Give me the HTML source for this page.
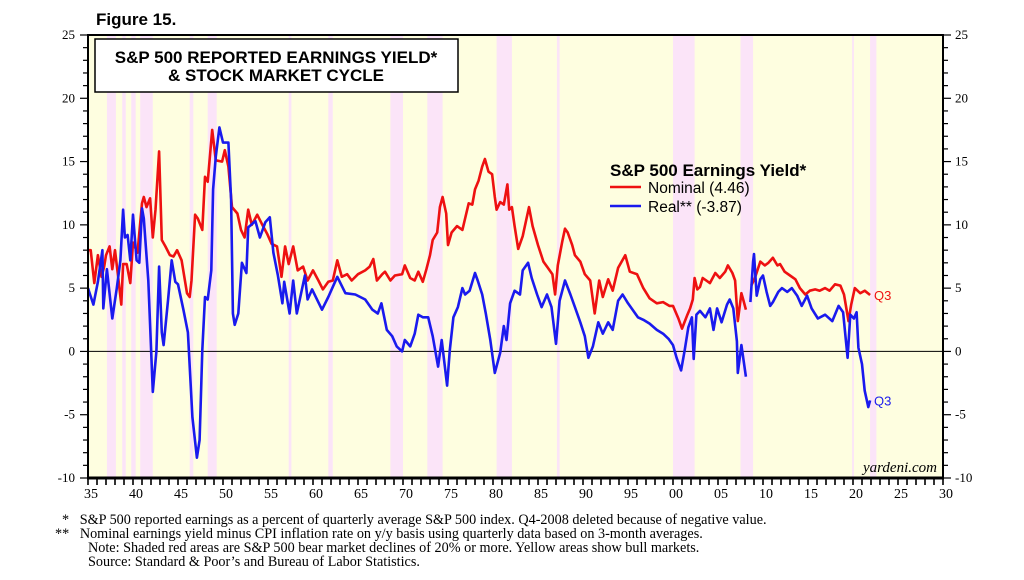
<!DOCTYPE html>
<html><head><meta charset="utf-8">
<style>
html,body{margin:0;padding:0;background:#fff;}
body{width:1024px;height:580px;position:relative;overflow:hidden;font-family:"Liberation Serif",serif;}
svg{position:absolute;left:0;top:0;}
.fn{position:absolute;font-family:"Liberation Serif",serif;font-size:14.2px;color:#000;white-space:nowrap;line-height:14px;}
</style></head>
<body>
<svg id="chart" width="1024" height="580" viewBox="0 0 1024 580"></svg>
<div class="fn" style="left:62px;top:513px;">*&nbsp;&nbsp;&nbsp;S&amp;P 500 reported earnings as a percent of quarterly average S&amp;P 500 index. Q4-2008 deleted because of negative value.</div>
<div class="fn" style="left:55px;top:527px;">**&nbsp;&nbsp;&nbsp;Nominal earnings yield minus CPI inflation rate on y/y basis using quarterly data based on 3-month averages.</div>
<div class="fn" style="left:88px;top:541px;">Note: Shaded red areas are S&amp;P 500 bear market declines of 20% or more. Yellow areas show bull markets.</div>
<div class="fn" style="left:88px;top:555px;">Source: Standard &amp; Poor’s and Bureau of Labor Statistics.</div>
<script>
const bearStart=[1937.1,1938.8,1939.8,1940.8,1946.3,1948.3,1957.3,1961.7,1968.6,1972.7,1980.4,1987.1,2000.0,2007.5,2019.9,2021.9];
const bearEnd=[1938.1,1939.2,1940.3,1942.2,1946.7,1949.3,1957.6,1962.2,1970.0,1974.4,1982.1,1987.4,2002.4,2008.9,2020.1,2022.6];
const yTicks=[25,20,15,10,5,0,-5,-10];
const xTickYears=[1935,1940,1945,1950,1955,1960,1965,1970,1975,1980,1985,1990,1995,2000,2005,2010,2015,2020,2025,2030];
const xTickLabels=["35","40","45","50","55","60","65","70","75","80","85","90","95","00","05","10","15","20","25","30"];
const nomYears1=[1935.0,1935.3,1935.7,1936.1,1936.5,1936.8,1937.0,1937.4,1937.7,1938.0,1938.3,1938.7,1938.9,1939.3,1939.7,1940.0,1940.5,1941.0,1941.2,1941.5,1941.9,1942.2,1942.5,1942.9,1943.2,1943.6,1944.1,1944.5,1944.9,1945.4,1946.0,1946.3,1946.5,1946.9,1947.2,1947.7,1948.0,1948.3,1948.8,1949.2,1949.9,1950.2,1950.6,1951.0,1951.6,1952.0,1952.4,1952.8,1953.2,1953.8,1954.3,1954.9,1955.4,1956.0,1956.5,1956.9,1957.3,1957.8,1958.3,1958.9,1959.4,1960.0,1960.6,1961.1,1961.7,1962.2,1962.7,1963.2,1963.8,1964.3,1965.0,1965.8,1966.3,1966.7,1967.1,1967.7,1968.0,1968.6,1969.1,1969.9,1970.2,1970.8,1971.3,1971.7,1972.2,1972.6,1973.0,1973.3,1973.8,1974.1,1974.4,1974.8,1975.0,1975.4,1976.0,1976.6,1976.9,1977.3,1977.7,1978.0,1978.4,1978.8,1979.1,1979.5,1979.9,1980.2,1980.4,1980.8,1981.2,1981.6,1981.8,1982.1,1982.4,1982.8,1983.3,1984.0,1984.4,1985.0,1985.6,1986.1,1986.6,1986.9,1987.2,1987.7,1988.0,1988.3,1988.8,1989.1,1989.7,1990.2,1990.8,1991.3,1991.8,1992.2,1992.8,1993.3,1993.9,1994.7,1995.2,1996.0,1996.7,1997.4,1998.2,1998.9,1999.6,2000.0,2000.6,2001.0,2001.6,2001.9,2002.2,2002.4,2002.7,2003.0,2003.3,2004.1,2004.7,2005.2,2005.8,2006.1,2006.6,2006.9,2007.2,2007.6,2007.8,2008.1];
const nomVals1=[8.0,8.0,5.4,7.6,5.9,6.7,7.6,8.3,6.5,8.0,6.2,3.7,6.9,6.9,5.4,8.6,7.8,11.7,12.2,11.4,12.1,9.0,11.2,15.8,8.8,8.3,7.6,7.5,8.0,7.2,4.6,4.3,5.6,10.8,10.5,9.6,13.8,13.4,17.5,15.1,15.0,15.9,14.6,11.4,10.9,9.6,9.0,11.2,10.0,10.8,10.1,9.3,8.5,8.3,5.9,8.3,6.9,8.3,6.4,6.7,5.6,6.4,5.6,4.9,5.5,5.6,7.2,5.9,6.1,5.6,6.1,6.4,6.7,7.3,5.6,6.1,6.3,5.6,6.0,6.1,6.8,5.8,5.6,6.3,5.5,6.5,7.6,8.8,9.4,11.4,12.2,10.9,8.4,9.4,9.9,9.6,10.5,11.7,11.6,12.8,13.5,14.6,15.2,14.2,14.0,12.2,11.2,11.8,11.6,13.2,11.2,11.4,9.9,8.1,9.1,11.4,9.9,8.4,7.1,6.6,6.1,4.5,6.8,8.7,9.7,9.4,8.4,7.6,7.1,6.1,5.6,3.0,5.6,4.3,5.7,4.8,6.6,7.6,6.3,6.1,5.0,4.2,3.8,3.9,3.6,3.6,2.6,1.8,2.9,3.4,4.1,5.8,4.9,5.1,5.8,5.4,6.2,5.8,6.3,6.8,6.2,5.6,2.4,4.6,4.1,3.3];
const nomYears2=[2008.7,2009.1,2009.7,2010.2,2010.6,2011.1,2011.6,2011.9,2012.4,2013.0,2013.6,2014.1,2014.7,2015.2,2015.8,2016.3,2016.9,2017.4,2018.0,2018.6,2019.0,2019.5,2019.8,2020.2,2020.8,2021.3,2021.9];
const nomVals2=[5.2,5.8,7.1,6.8,7.0,7.4,6.8,6.9,6.3,6.0,5.7,5.0,4.5,4.8,4.9,4.8,5.0,4.8,5.3,5.2,4.5,2.4,3.7,5.0,4.6,4.8,4.46];
const realYears1=[1935.0,1935.6,1936.1,1936.6,1936.7,1937.1,1937.7,1938.2,1938.6,1938.9,1939.1,1939.4,1939.7,1940.0,1940.4,1940.7,1941.0,1941.2,1941.7,1942.2,1942.6,1942.9,1943.2,1943.4,1943.9,1944.3,1944.7,1945.0,1945.6,1946.1,1946.6,1947.1,1947.4,1947.7,1948.0,1948.3,1948.7,1948.9,1949.2,1949.6,1950.0,1950.6,1950.9,1951.1,1951.3,1951.7,1952.1,1952.6,1952.8,1953.6,1954.1,1954.7,1955.2,1955.6,1956.1,1956.6,1956.8,1957.4,1957.8,1958.2,1959.1,1959.4,1959.9,1961.0,1961.7,1962.7,1963.6,1964.7,1965.8,1966.6,1967.2,1967.6,1968.2,1968.8,1969.3,1969.9,1970.2,1970.8,1971.3,1971.7,1972.2,1972.8,1973.3,1973.9,1974.3,1974.9,1975.2,1975.6,1976.1,1976.6,1976.9,1977.4,1978.0,1978.3,1978.8,1979.2,1979.7,1980.2,1980.8,1981.2,1981.5,1981.9,1982.4,1983.0,1983.3,1983.9,1984.3,1984.9,1985.4,1986.0,1986.5,1987.0,1987.4,1988.0,1988.6,1989.1,1989.7,1990.2,1990.6,1991.1,1991.7,1992.2,1992.8,1993.3,1993.9,1994.4,1995.0,1995.6,1996.1,1996.7,1997.4,1998.2,1998.9,1999.5,2000.0,2000.4,2000.9,2001.3,2001.7,2002.1,2002.3,2002.6,2003.0,2003.6,2004.1,2004.5,2004.9,2005.4,2006.0,2006.3,2006.7,2007.1,2007.2,2007.6,2008.1];
const realVals1=[5.0,3.7,5.5,8.0,3.4,6.5,2.6,5.0,7.2,11.2,9.0,9.2,7.2,10.8,7.2,7.0,11.3,10.5,5.6,-3.2,0.0,6.7,1.5,0.5,4.1,7.2,5.5,5.3,3.3,1.5,-5.2,-8.4,-7.0,0.1,4.3,4.1,6.4,12.8,15.4,17.7,16.5,16.5,12.0,3.0,2.1,3.0,7.0,6.2,9.8,10.3,9.0,10.2,10.6,7.8,6.0,3.8,5.5,3.0,5.6,3.0,6.0,4.1,4.9,3.3,4.3,5.9,4.6,4.5,4.1,3.3,3.0,3.8,1.7,1.2,0.4,0.0,0.9,0.4,1.4,2.9,2.7,2.7,1.2,-1.2,0.9,-2.7,0.1,2.7,3.5,5.0,4.5,4.8,6.2,5.6,4.5,3.0,0.9,-1.7,-0.1,2.0,0.9,3.8,4.8,4.5,6.4,7.0,5.8,4.5,3.5,4.5,3.5,0.6,4.0,5.6,4.5,3.5,2.3,1.2,-0.5,0.4,2.3,1.4,2.3,1.7,4.0,4.5,3.8,3.2,2.7,2.5,2.2,1.7,1.4,1.0,0.5,-0.5,-1.5,0.1,1.9,2.7,-0.6,2.9,3.2,2.7,3.4,1.7,3.4,2.3,3.7,4.1,3.4,0.8,-1.7,0.5,-2.0];
const realYears2=[2008.6,2008.9,2009.0,2009.3,2009.7,2010.0,2010.4,2010.8,2011.1,2011.7,2012.1,2012.7,2013.2,2013.8,2014.3,2014.9,2015.4,2016.1,2016.9,2017.7,2018.4,2018.9,2019.4,2019.7,2020.1,2020.4,2020.6,2021.0,2021.3,2021.7,2021.9];
const realVals2=[3.9,7.1,7.7,4.4,5.7,6.0,4.7,3.6,3.9,4.7,5.0,4.7,5.0,4.4,3.6,4.4,3.4,2.6,2.9,2.4,3.6,3.1,-0.5,2.9,2.6,3.1,0.3,-1.0,-3.1,-4.4,-3.87];

const NS='http://www.w3.org/2000/svg';
const svg=document.getElementById('chart');
const L=88,R=943,T=35,B=478,X0=1935,X1=2030,Y0=-10,Y1=25;
const xs=y=>L+(y-X0)/(X1-X0)*(R-L);
const ys=v=>B-(v-Y0)/(Y1-Y0)*(B-T);
function mk(tag,attrs,parent){const e=document.createElementNS(NS,tag);for(const k in attrs)e.setAttribute(k,attrs[k]);(parent||svg).appendChild(e);return e;}

const bg=mk('rect',{x:L,y:T,width:R-L,height:B-T,fill:'#fefee0'});


for(let i=0;i<bearStart.length;i++){
  const r=mk('rect',{x:xs(bearStart[i]),y:T,width:Math.max(1,xs(bearEnd[i])-xs(bearStart[i])),height:B-T,fill:'#fbe4f8'});
  
  
}
const z=mk('line',{x1:L,x2:R,y1:ys(0),y2:ys(0),stroke:'#000','stroke-width':1});



function line(yrs,vals,color,name){
  const p=yrs.map((y,i)=>xs(y).toFixed(1)+','+ys(vals[i]).toFixed(1)).join(' ');
  const e=mk('polyline',{points:p,fill:'none',stroke:color,'stroke-width':2.6,'stroke-linejoin':'round'});
  
  
}
line(nomYears1,nomVals1,'#ee1111','nominal-yield-line');
line(nomYears2,nomVals2,'#ee1111','nominal-yield-line-post-2008');
line(realYears1,realVals1,'#1a1aee','real-yield-line');
line(realYears2,realVals2,'#1a1aee','real-yield-line-post-2008');

const fr=mk('rect',{x:L,y:T,width:R-L,height:B-T,fill:'none',stroke:'#000','stroke-width':2});


const bl=mk('line',{x1:L-1,x2:R+1,y1:B,y2:B,stroke:'#000','stroke-width':3});



for(let v=Y0;v<=Y1;v++){
  const major=v%5===0;
  mk('line',{x1:L-(major?8:5),x2:L,y1:ys(v),y2:ys(v),stroke:'#000','stroke-width':1.2});
  mk('line',{x1:R,x2:R+(major?8:5),y1:ys(v),y2:ys(v),stroke:'#000','stroke-width':1.2});
}
yTicks.forEach(v=>{
  const t=mk('text',{x:L-13,y:ys(v)+4,'text-anchor':'end','font-size':13,'font-family':'Liberation Serif, serif'});
  t.textContent=String(v);
  
  
  const t2=mk('text',{x:R+12,y:ys(v)+4,'text-anchor':'start','font-size':13,'font-family':'Liberation Serif, serif'});
  t2.textContent=String(v);
  
  
});
for(let y=X0;y<=X1;y++){
  mk('line',{x1:xs(y),x2:xs(y),y1:B,y2:B+7,stroke:'#000','stroke-width':1.6});
}
xTickYears.forEach((y,i)=>{
  const t=mk('text',{x:xs(y)+3,y:B+20,'text-anchor':'middle','font-size':14,'font-family':'Liberation Serif, serif'});
  t.textContent=xTickLabels[i];
  
  
});

const tb=mk('rect',{x:95,y:39,width:363,height:53,fill:'#fff',stroke:'#000','stroke-width':1.5});


const t1=mk('text',{x:276,y:63,'text-anchor':'middle','font-size':17,'font-weight':'bold','font-family':'Liberation Sans, sans-serif'});
t1.textContent='S&P 500 REPORTED EARNINGS YIELD*';


const t2=mk('text',{x:276,y:81,'text-anchor':'middle','font-size':17,'font-weight':'bold','font-family':'Liberation Sans, sans-serif'});
t2.textContent='& STOCK MARKET CYCLE';


const fig=mk('text',{x:96,y:25,'font-size':17,'font-weight':'bold','font-family':'Liberation Sans, sans-serif'});
fig.textContent='Figure 15.';



const lg=mk('text',{x:610,y:176,'font-size':17,'font-weight':'bold','font-family':'Liberation Sans, sans-serif'});
lg.textContent='S&P 500 Earnings Yield*';


const l1=mk('line',{x1:610,x2:641,y1:187,y2:187,stroke:'#ee1111','stroke-width':2.6});


const lt1=mk('text',{x:648,y:193,'font-size':15.5,'font-family':'Liberation Sans, sans-serif'});
lt1.textContent='Nominal (4.46)';


const l2=mk('line',{x1:610,x2:641,y1:206,y2:206,stroke:'#1a1aee','stroke-width':2.6});


const lt2=mk('text',{x:648,y:212,'font-size':15.5,'font-family':'Liberation Sans, sans-serif'});
lt2.textContent='Real** (-3.87)';



const q1=mk('text',{x:874,y:ys(nomVals2[nomVals2.length-1])+5,'font-size':13,fill:'#ee1111','font-family':'Liberation Sans, sans-serif'});
q1.textContent='Q3';


const q2=mk('text',{x:874,y:ys(realVals2[realVals2.length-1])+5,'font-size':13,fill:'#1a1aee','font-family':'Liberation Sans, sans-serif'});
q2.textContent='Q3';



const yd=mk('text',{x:937,y:472,'text-anchor':'end','font-size':15,'font-style':'italic','font-family':'Liberation Serif, serif'});
yd.textContent='yardeni.com';


</script>
</body></html>
